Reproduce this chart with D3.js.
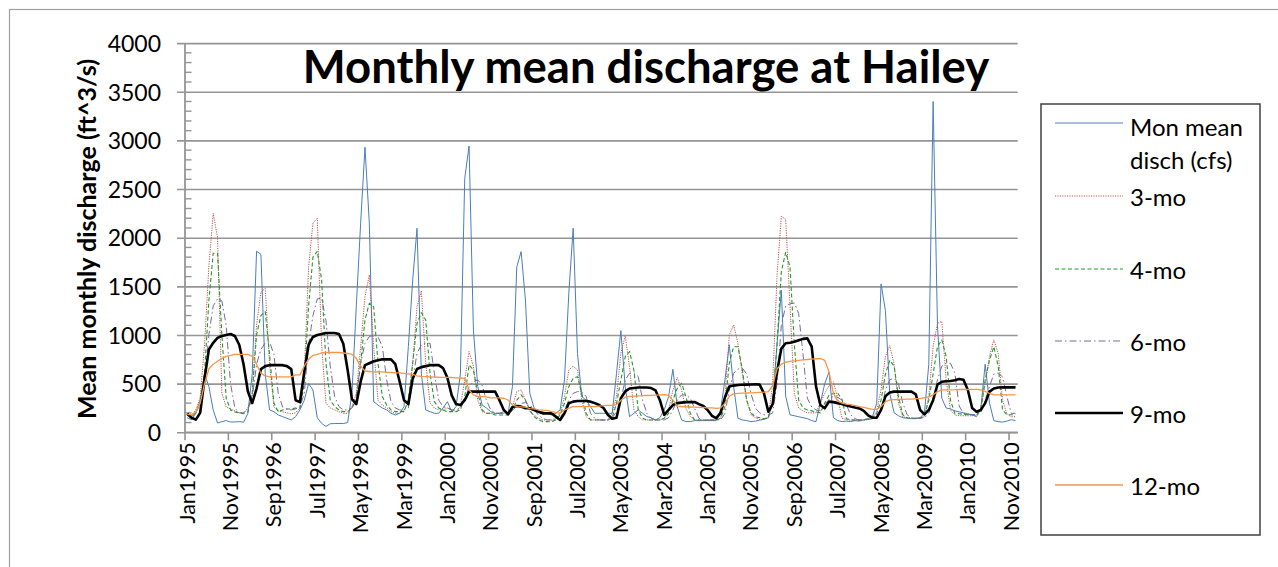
<!DOCTYPE html>
<html>
<head>
<meta charset="utf-8">
<script src="https://cdn.jsdelivr.net/npm/d3@7"></script>
<style>
  body { margin: 0; background: #fff; }
  svg text { font-family: Lato, "Open Sans", sans-serif; fill: #000; }
</style>
</head>
<body>
<script>
"use strict";

// categories: one per month, Jan1995 .. Dec2010
const monthNames = ["Jan", "Feb", "Mar", "Apr", "May", "Jun", "Jul", "Aug", "Sep", "Oct", "Nov", "Dec"];
const years = d3.range(1995, 2011);
const months = years.flatMap((yr) => monthNames.map((m) => `${m}${yr}`));

// labels shown on the x axis (every 10th month)
const tickLabels = ["Jan1995", "Nov1995", "Sep1996", "Jul1997", "May1998", "Mar1999", "Jan2000", "Nov2000",
  "Sep2001", "Jul2002", "May2003", "Mar2004", "Jan2005", "Nov2005", "Sep2006", "Jul2007", "May2008",
  "Mar2009", "Jan2010", "Nov2010"];
const yTicks = [0, 500, 1000, 1500, 2000, 2500, 3000, 3500, 4000];

const monMean = [
  150, 130, 195, 330, 600, 470, 230, 95, 110, 120, 106, 106,
  110, 103, 195, 600, 1860, 1830, 600, 230, 212, 178, 161, 144,
  127, 161, 230, 330, 500, 435, 150, 92, 60, 88, 90, 90,
  90, 100, 400, 1300, 2150, 2930, 2150, 315, 280, 250, 230, 195,
  178, 195, 264, 880, 1565, 2097, 600, 230, 212, 195, 195, 250,
  315, 212, 264, 600, 2610, 2943, 1050, 470, 281, 250, 212, 195,
  195, 212, 195, 470, 1700, 1857, 1360, 400, 250, 212, 212, 195,
  178, 195, 230, 540, 1430, 2097, 810, 367, 330, 264, 195, 195,
  195, 195, 195, 606, 1045, 470, 161, 195, 230, 195, 161, 150,
  127, 150, 230, 367, 648, 264, 127, 110, 110, 120, 120, 120,
  120, 120, 120, 230, 540, 900, 470, 144, 127, 120, 110, 115,
  125, 135, 150, 300, 900, 1460, 370, 180, 170, 160, 150, 140,
  120, 110, 300, 500, 620, 150, 120, 110, 115, 110, 120, 115,
  130, 140, 160, 300, 1525, 1250, 400, 200, 170, 150, 145, 140,
  140, 150, 200, 700, 3400, 1100, 350, 250, 240, 220, 210, 200,
  190, 180, 160, 250, 700, 300, 120, 110, 105, 115, 130, 120
];

const mo3 = [
  190, 170, 230, 360, 900, 1700, 2250, 2000, 400, 260, 240, 220,
  200, 200, 250, 400, 1100, 1440, 1480, 700, 260, 220, 210, 200,
  190, 200, 250, 600, 1700, 2150, 2200, 900, 300, 250, 230, 212,
  195, 195, 264, 400, 880, 1395, 1617, 880, 330, 280, 250, 212,
  195, 195, 230, 300, 710, 1290, 1456, 710, 300, 250, 230, 230,
  250, 230, 212, 264, 540, 830, 675, 330, 212, 195, 195, 195,
  195, 195, 212, 264, 418, 435, 330, 212, 178, 144, 127, 127,
  127, 144, 195, 367, 640, 680, 640, 330, 161, 127, 127, 127,
  127, 127, 195, 367, 812, 990, 675, 230, 161, 127, 127, 127,
  127, 127, 145, 230, 435, 562, 435, 247, 161, 127, 127, 127,
  127, 127, 127, 145, 367, 1000, 1103, 915, 600, 330, 180, 150,
  130, 130, 150, 500, 1600, 2220, 2190, 1300, 400, 250, 220, 200,
  200, 200, 300, 400, 480, 520, 350, 144, 130, 125, 125, 125,
  125, 130, 145, 220, 440, 780, 890, 700, 300, 160, 150, 145,
  145, 145, 160, 370, 880, 1120, 1140, 540, 230, 180, 170, 170,
  170, 170, 175, 250, 500, 780, 950, 810, 330, 190, 160, 160
];

const mo4 = [
  180, 160, 200, 300, 600, 1350, 1840, 1840, 1000, 350, 230, 210,
  200, 190, 210, 400, 1000, 1200, 1240, 800, 300, 210, 230, 240,
  240, 250, 250, 500, 1300, 1800, 1860, 1566, 710, 330, 264, 230,
  212, 212, 250, 330, 710, 1155, 1326, 1290, 710, 367, 280, 230,
  212, 212, 212, 330, 710, 1120, 1230, 1155, 606, 315, 250, 230,
  212, 212, 212, 230, 367, 692, 640, 400, 230, 195, 195, 178,
  178, 178, 178, 230, 330, 384, 330, 230, 161, 127, 110, 110,
  110, 127, 178, 298, 470, 555, 572, 400, 195, 127, 127, 127,
  127, 127, 150, 298, 538, 778, 830, 640, 230, 144, 127, 127,
  127, 127, 144, 195, 332, 452, 504, 367, 195, 127, 127, 127,
  127, 127, 127, 144, 264, 710, 880, 880, 650, 330, 200, 160,
  150, 140, 150, 300, 900, 1650, 1850, 1700, 900, 330, 250, 230,
  220, 210, 200, 300, 380, 400, 400, 340, 140, 130, 125, 125,
  130, 135, 150, 195, 330, 600, 740, 680, 370, 180, 150, 145,
  145, 145, 170, 330, 600, 880, 950, 780, 330, 195, 190, 185,
  180, 180, 180, 230, 540, 740, 880, 680, 230, 180, 180, 180
];

const mo6 = [
  180, 160, 200, 300, 500, 1000, 1300, 1370, 1350, 1100, 500, 250,
  200, 200, 230, 350, 700, 850, 920, 930, 800, 400, 260, 240,
  230, 240, 260, 400, 900, 1200, 1370, 1380, 1150, 675, 367, 264,
  230, 230, 250, 367, 710, 915, 983, 1000, 983, 880, 540, 315,
  250, 230, 230, 250, 540, 812, 900, 915, 915, 606, 330, 264,
  250, 230, 230, 250, 330, 470, 520, 538, 486, 330, 230, 195,
  195, 195, 195, 230, 264, 298, 305, 281, 230, 178, 144, 127,
  127, 127, 144, 230, 330, 400, 418, 418, 367, 195, 144, 127,
  127, 127, 150, 212, 332, 538, 606, 613, 572, 332, 195, 144,
  127, 127, 127, 150, 230, 332, 384, 384, 350, 247, 144, 127,
  127, 127, 127, 127, 195, 435, 606, 650, 660, 600, 400, 250,
  200, 180, 175, 200, 500, 1100, 1300, 1320, 1330, 1220, 800, 350,
  260, 230, 220, 280, 340, 370, 360, 330, 280, 180, 140, 125,
  125, 130, 140, 180, 230, 430, 540, 555, 500, 300, 180, 150,
  145, 145, 150, 195, 330, 540, 680, 710, 710, 610, 270, 195,
  185, 180, 180, 200, 330, 470, 600, 610, 570, 370, 195, 195
];

const mo9 = [
  190, 150, 130, 200, 550, 850, 920, 970, 990, 1000, 1010, 990,
  900, 700, 420, 300, 450, 650, 680, 690, 690, 690, 690, 680,
  650, 330, 310, 620, 900, 980, 1000, 1010, 1020, 1020, 1020, 1010,
  910, 640, 340, 290, 520, 690, 710, 730, 740, 750, 750, 750,
  700, 520, 330, 290, 550, 650, 670, 680, 690, 690, 690, 660,
  560, 380, 290, 280, 330, 418, 418, 418, 418, 418, 418, 418,
  330, 230, 185, 260, 270, 264, 247, 247, 230, 212, 195, 195,
  195, 161, 127, 195, 298, 315, 322, 322, 322, 315, 300, 280,
  250, 180, 140, 150, 350, 420, 450, 455, 460, 460, 460, 455,
  430, 330, 180, 230, 280, 300, 305, 310, 310, 312, 290, 270,
  230, 170, 145, 200, 360, 470, 480, 486, 488, 490, 492, 494,
  490, 400, 212, 290, 620, 860, 915, 920, 930, 945, 960, 965,
  880, 470, 281, 247, 315, 310, 300, 290, 275, 265, 255, 245,
  220, 175, 150, 150, 230, 370, 410, 418, 418, 418, 418, 418,
  390, 230, 185, 230, 330, 490, 520, 525, 527, 535, 548, 540,
  435, 250, 212, 230, 300, 418, 450, 460, 462, 462, 462, 462
];

const mo12 = [
  185, 180, 210, 300, 500, 650, 700, 730, 760, 780, 790, 800,
  800, 800, 800, 780, 700, 606, 580, 570, 570, 570, 570, 570,
  570, 590, 590, 680, 750, 790, 800, 815, 820, 820, 820, 820,
  815, 810, 800, 760, 680, 630, 625, 620, 620, 620, 615, 615,
  612, 610, 605, 600, 595, 580, 575, 572, 570, 568, 566, 565,
  565, 563, 560, 558, 555, 435, 384, 367, 367, 365, 353, 353,
  353, 350, 332, 281, 264, 262, 258, 243, 240, 230, 228, 225,
  212, 205, 195, 230, 247, 264, 264, 264, 264, 264, 264, 270,
  274, 276, 278, 285, 330, 360, 370, 372, 375, 376, 378, 380,
  382, 385, 386, 380, 330, 270, 265, 262, 260, 258, 256, 255,
  252, 250, 245, 250, 300, 370, 395, 400, 402, 404, 406, 408,
  410, 412, 418, 480, 650, 700, 720, 728, 735, 740, 745, 748,
  752, 756, 760, 740, 620, 400, 320, 300, 290, 285, 275, 265,
  255, 245, 235, 235, 265, 315, 332, 335, 337, 338, 340, 340,
  345, 348, 355, 365, 385, 418, 435, 436, 437, 438, 440, 440,
  440, 441, 442, 435, 420, 400, 385, 385, 385, 385, 385, 385
];

const seriesNames = ["Mon mean disch (cfs)", "3-mo", "4-mo", "6-mo", "9-mo", "12-mo"];
const seriesValues = [monMean, mo3, mo4, mo6, mo9, mo12];

// line styles per series
const styles = [
  { color: "#4a7ebb", width: 1, dash: null },
  { color: "#c0504d", width: 1, dash: "1.2,1.2" },
  { color: "#1f9a2c", width: 1.1, dash: "4,2.5" },
  { color: "#8064a2", width: 1, dash: "7,3,1.5,3" },
  { color: "#000000", width: 2.6, dash: null },
  { color: "#f79646", width: 1.3, dash: null }
];

const w = 1278;
const h = 567;
const plot = { left: 185, right: 1017.7, top: 43.1, bottom: 432.3 };
const gridColor = "#959595";

const svg = d3.select("body").append("svg").attr("width", w).attr("height", h);

// outer chart frame
svg.append("rect")
  .attr("x", 9.5).attr("y", 9.5)
  .attr("width", w + 20).attr("height", h + 20)
  .attr("fill", "#fff")
  .attr("stroke", "#a0a0a0")
  .attr("stroke-width", 1.2);

const xScale = d3.scaleBand().domain(months).range([plot.left, plot.right]).padding(0);
const yScale = d3.scaleLinear().domain([0, 4000]).range([plot.bottom, plot.top]);
const xMid = (m) => xScale(m) + xScale.bandwidth() / 2;

// horizontal gridlines + major ticks
const yAxis = d3.axisLeft(yScale)
  .tickValues(yTicks)
  .tickSize(-(plot.right - plot.left))
  .tickSizeOuter(0)
  .tickFormat((d) => d);

svg.append("g")
  .attr("transform", `translate(${plot.left}, 0)`)
  .call(yAxis)
  .call((g) => g.select(".domain").remove())
  .call((g) => g.selectAll(".tick line")
    .attr("x1", -8)
    .attr("stroke", gridColor)
    .attr("stroke-width", 1.6))
  .call((g) => g.selectAll(".tick text")
    .attr("x", -24)
    .attr("dy", "0.36em")
    .attr("font-size", 23)
    .attr("fill", "#000"));

// minor ticks inside the y axis
svg.append("g")
  .selectAll("line")
  .data(d3.range(100, 4000, 100).filter((v) => v % 500 !== 0))
  .join("line")
  .attr("x1", plot.left)
  .attr("x2", plot.left + 6.5)
  .attr("y1", (d) => yScale(d))
  .attr("y2", (d) => yScale(d))
  .attr("stroke", gridColor)
  .attr("stroke-width", 1.4);

// y axis line
svg.append("line")
  .attr("x1", plot.left).attr("x2", plot.left)
  .attr("y1", plot.top).attr("y2", plot.bottom)
  .attr("stroke", gridColor)
  .attr("stroke-width", 1.8);

// x axis: ticks at bin edges every 10 months, labels at bin centres
const xAxisG = svg.append("g");
xAxisG.append("line")
  .attr("x1", plot.left).attr("x2", plot.right)
  .attr("y1", plot.bottom).attr("y2", plot.bottom)
  .attr("stroke", gridColor)
  .attr("stroke-width", 1.8);

xAxisG.selectAll(".xtick")
  .data(tickLabels)
  .join("line")
  .attr("class", "xtick")
  .attr("x1", (d) => xScale(d))
  .attr("x2", (d) => xScale(d))
  .attr("y1", plot.bottom)
  .attr("y2", plot.bottom + 8)
  .attr("stroke", gridColor)
  .attr("stroke-width", 1.6);

xAxisG.selectAll(".xlabel")
  .data(tickLabels)
  .join("text")
  .attr("class", "xlabel")
  .attr("transform", (d) => `translate(${xMid(d) + 7.5}, ${plot.bottom + 10}) rotate(-90)`)
  .attr("text-anchor", "end")
  .attr("font-size", 21.5)
  .text((d) => d);

// series lines
const line = d3.line()
  .x((d, i) => xMid(months[i]))
  .y((d) => yScale(d));

svg.append("g")
  .selectAll("path")
  .data(seriesValues)
  .join("path")
  .attr("d", (d) => line(d))
  .attr("fill", "none")
  .attr("stroke", (d, i) => styles[i].color)
  .attr("stroke-width", (d, i) => styles[i].width)
  .attr("stroke-dasharray", (d, i) => styles[i].dash)
  .attr("stroke-linejoin", "round");

// title
svg.append("text")
  .attr("x", 646)
  .attr("y", 83)
  .attr("text-anchor", "middle")
  .attr("font-size", 45.5)
  .attr("font-weight", "bold")
  .text("Monthly mean discharge at Hailey");

// y axis title
svg.append("text")
  .attr("transform", "translate(96, 239) rotate(-90)")
  .attr("text-anchor", "middle")
  .attr("font-size", 25)
  .attr("font-weight", "bold")
  .text("Mean monthly discharge (ft^3/s)");

// legend
const legend = svg.append("g");
legend.append("rect")
  .attr("x", 1041).attr("y", 104)
  .attr("width", 219).attr("height", 431)
  .attr("fill", "#fff")
  .attr("stroke", "#404040")
  .attr("stroke-width", 1.5);

const legendY = [124, 197, 270, 342, 414, 486];
const items = legend.selectAll(".item")
  .data(seriesNames)
  .join("g")
  .attr("class", "item")
  .attr("transform", (d, i) => `translate(0, ${legendY[i]})`);

items.append("line")
  .attr("x1", 1055).attr("x2", 1123)
  .attr("y1", -1).attr("y2", -1)
  .attr("stroke", (d, i) => styles[i].color)
  .attr("stroke-width", (d, i) => styles[i].width)
  .attr("stroke-dasharray", (d, i) => styles[i].dash);

items.filter((d) => !d.startsWith("Mon"))
  .append("text")
  .attr("x", 1130)
  .attr("dy", "0.36em")
  .attr("font-size", 24)
  .text((d) => d);

// first legend entry wraps onto two lines
const firstLabel = items.filter((d) => d.startsWith("Mon"));
firstLabel.append("text")
  .attr("x", 1130).attr("y", 12)
  .attr("font-size", 24)
  .text("Mon mean");
firstLabel.append("text")
  .attr("x", 1130).attr("y", 45)
  .attr("font-size", 24)
  .text("disch (cfs)");
</script>
</body>
</html>
